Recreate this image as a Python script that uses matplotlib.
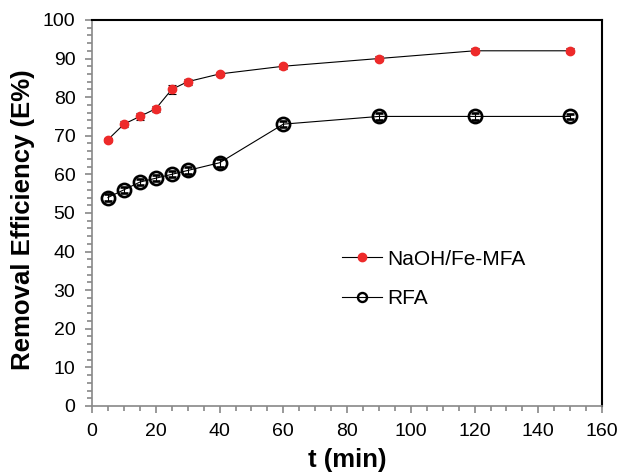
import matplotlib
matplotlib.use("Agg")
import matplotlib.pyplot as plt
from matplotlib.ticker import MultipleLocator

plt.rcParams.update({"font.family": ["Liberation Sans", "DejaVu Sans"]})

t = [5, 10, 15, 20, 25, 30, 40, 60, 90, 120, 150]
naoh = [69, 73, 75, 77, 82, 84, 86, 88, 90, 92, 92]
naoh_err = [0.5, 0.8, 0.8, 0.8, 1.2, 0.8, 0.6, 0.7, 0.6, 0.7, 0.7]
rfa = [54, 56, 58, 59, 60, 61, 63, 73, 75, 75, 75]
rfa_err = [0.8, 0.8, 0.8, 0.8, 0.8, 1.0, 1.0, 0.8, 1.0, 0.8, 0.6]

GREY = "#888888"

fig = plt.figure(figsize=(6.22, 4.74), dpi=100)
ax = fig.add_axes([0.148, 0.1435, 0.82, 0.8145])

ax.errorbar(t, naoh, yerr=naoh_err, color="black", lw=0.8, marker="o",
            ms=6, mfc="#ee2a2a", mec="#ee2a2a", ecolor="black", elinewidth=0.8,
            capsize=3, capthick=0.8, label="NaOH/Fe-MFA", zorder=3)
ax.errorbar(t, rfa, yerr=rfa_err, color="black", lw=0.8, marker="o",
            ms=9.5, mfc="none", mec="black", mew=1.9, ecolor="black",
            elinewidth=0.8, capsize=3, capthick=0.8, label="RFA", zorder=3)

ax.set_xlim(0, 160)
ax.set_ylim(0, 100)
ax.xaxis.set_major_locator(MultipleLocator(20))
ax.xaxis.set_minor_locator(MultipleLocator(5))
ax.yaxis.set_major_locator(MultipleLocator(10))
ax.yaxis.set_minor_locator(MultipleLocator(2))

for s in ("left", "bottom"):
    ax.spines[s].set_color(GREY)
    ax.spines[s].set_linewidth(1.2)
for s in ("top", "right"):
    ax.spines[s].set_color("black")
    ax.spines[s].set_linewidth(1.5)

ax.tick_params(which="major", direction="out", length=5, width=1.2,
               color=GREY, labelsize=14, pad=7)
ax.tick_params(which="minor", direction="out", length=3.5, width=1.2,
               color=GREY)

ax.set_xlabel("t (min)", fontsize=18.5, fontweight="bold", labelpad=6)
ax.set_ylabel("Removal Efficiency (E%)", fontsize=18.5, fontweight="bold")
ax.yaxis.set_label_coords(-0.112, 0.482)

handles, labels = ax.get_legend_handles_labels()
handles = [h[0] for h in handles]
leg = ax.legend(handles, labels, loc="upper left", bbox_to_anchor=(0.49, 0.405),
                borderaxespad=0, borderpad=0, frameon=False, fontsize=15,
                handlelength=1.9, handletextpad=0.25, labelspacing=1.0)
# legend circle for RFA is drawn smaller than the data markers
leg.legend_handles[1].set_markersize(6.5)
leg.legend_handles[1].set_markeredgewidth(1.7)

fig.savefig("out.png", dpi=100, facecolor="white")
